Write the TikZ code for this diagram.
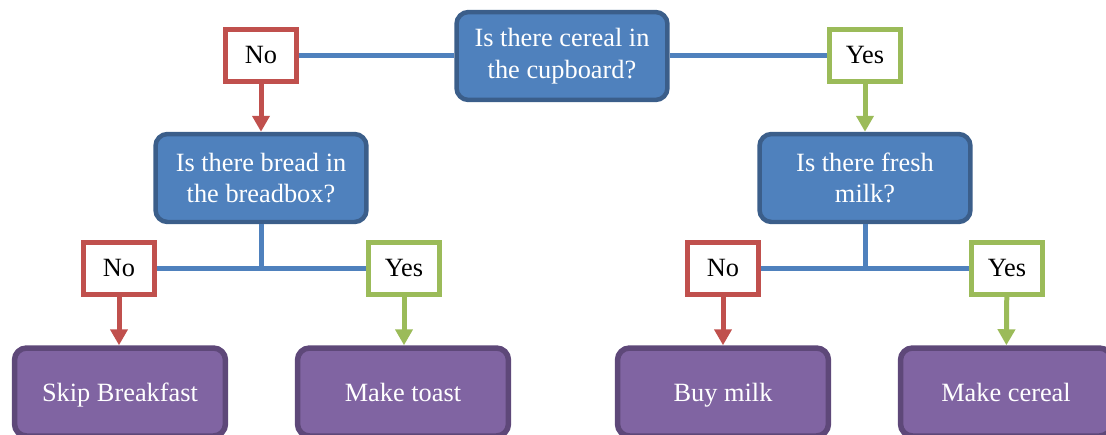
\documentclass[tikz,border=0pt]{standalone}
\usepackage{fontspec}
\setmainfont{Liberation Serif}
\usetikzlibrary{arrows.meta}
\definecolor{qfill}{HTML}{4F81BD}
\definecolor{qline}{HTML}{3B5E8A}
\definecolor{afill}{HTML}{8064A2}
\definecolor{aline}{HTML}{5E4879}
\definecolor{nored}{HTML}{C0504D}
\definecolor{yesgreen}{HTML}{9BBB59}
\begin{document}
\begin{tikzpicture}[x=0.02cm,y=-0.02cm,
  every node/.style={font=\fontsize{15}{18}\selectfont},
  question/.style={draw=qline,fill=qfill,text=white,line width=0.09cm,
    rounded corners=0.24cm,minimum width=4.22cm,minimum height=1.76cm,align=center},
  action/.style={question,draw=aline,fill=afill,line width=0.11cm,text depth=0cm},
  answer/.style={draw=#1,fill=white,line width=0.1cm,
    minimum width=1.42cm,minimum height=1.04cm},
  link/.style={draw=qfill,line width=0.1cm},
  pick/.style={draw=#1,line width=0.1cm,-{Triangle[width=0.34cm,length=0.32cm]}}]
\useasboundingbox (0,0) rectangle (1106,434);
\clip (0,0) rectangle (1106,434);
% questions
\node[question] (q1) at (562,56) {Is there cereal in\\the cupboard?};
\node[question] (q2) at (261,178) {Is there bread in\\the breadbox?};
\node[question] (q3) at (865,178) {Is there fresh\\milk?};
% answers
\node[answer=nored] (no1) at (261,55) {No};
\node[answer=yesgreen] (yes1) at (865,55) {Yes};
\node[answer=nored] (no2) at (119,268) {No};
\node[answer=yesgreen] (yes2) at (404,268) {Yes};
\node[answer=nored] (no3) at (723,268) {No};
\node[answer=yesgreen] (yes3) at (1007,268) {Yes};
% actions
\node[action] (a1) at (120,392) {Skip Breakfast};
\node[action] (a2) at (403,392) {Make toast};
\node[action] (a3) at (723,392) {Buy milk};
\node[action] (a4) at (1006,392) {Make cereal};
% connectors
\draw[link] (no1.east) -- (q1.west |- no1.east);
\draw[link] (q1.east |- yes1.west) -- (yes1.west);
\foreach \q/\n/\y in {q2/no2/yes2,q3/no3/yes3}
{
  \coordinate (j\q) at (\q.south |- \n.east);
  \draw[link] (\q.south) -- (j\q);
  \draw[link] (\n.east) -- (\y.west);
}
\draw[pick=nored] (no1) -- (q2);
\draw[pick=yesgreen] (yes1) -- (q3);
\draw[pick=nored] (no2.south) -- (no2.south |- a1.north);
\draw[pick=yesgreen] (yes2.south) -- (yes2.south |- a2.north);
\draw[pick=nored] (no3) -- (a3);
\draw[pick=yesgreen] (yes3) -- (a4);
\end{tikzpicture}
\end{document}
